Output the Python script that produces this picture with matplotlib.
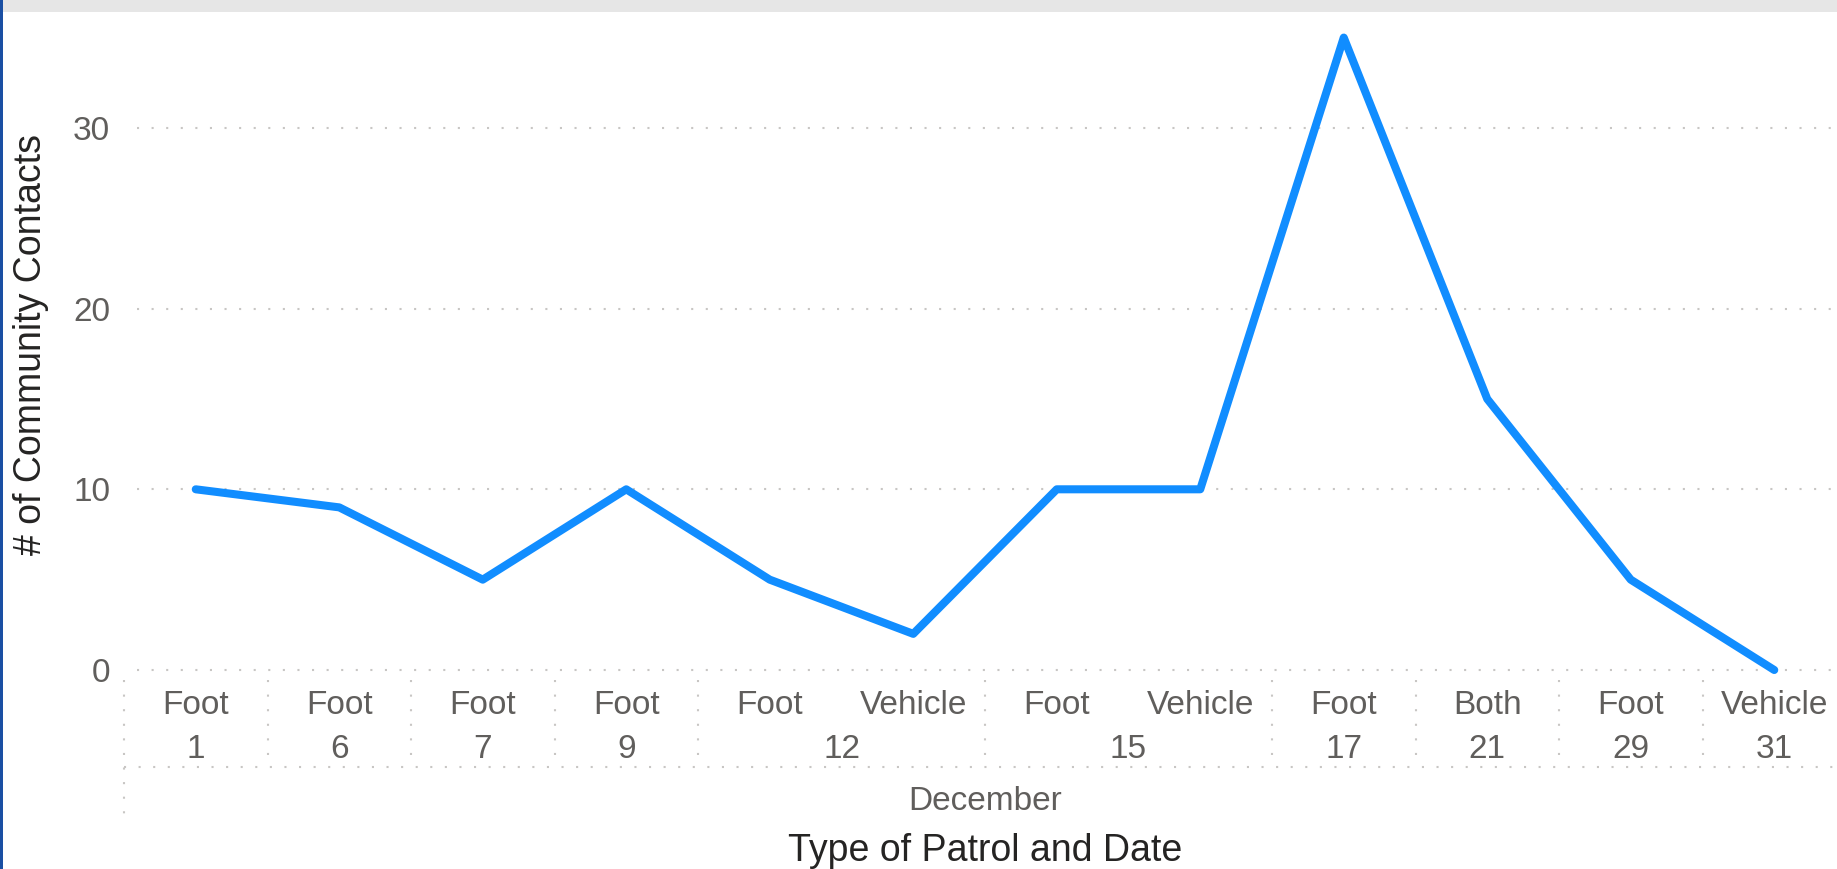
import itertools
import matplotlib
matplotlib.use("Agg")
import matplotlib.pyplot as plt
from matplotlib.patches import Rectangle

# data
patrol = ["Foot", "Foot", "Foot", "Foot", "Foot", "Vehicle",
          "Foot", "Vehicle", "Foot", "Both", "Foot", "Vehicle"]
day = [1, 6, 7, 9, 12, 12, 15, 15, 17, 21, 29, 31]
contacts = [10, 9, 5, 10, 5, 2, 10, 10, 35, 15, 5, 0]
month = "December"
y_ticks = [0, 10, 20, 30]

W, H = 1837, 869
plt.rcParams['font.family'] = ['Liberation Sans', 'DejaVu Sans']

LINE = "#118DFF"
TICK = "#605E5C"
TITLE = "#252423"
GRID = "#C8C6C4"
DOT = (0, (1, 6))

fig = plt.figure(figsize=(W / 100, H / 100), dpi=100)
fig.patch.set_facecolor("white")

# axes in pixel terms: left 124, bottom (y=0) at 670, top at 19.5
left, right = 124, 124 + 12 * 143.5
top, bottom = 19.5, 670
ax = fig.add_axes([left / W, 1 - bottom / H, (right - left) / W, (bottom - top) / H])
ax_h = bottom - top

x = list(range(len(contacts)))
ax.plot(x, contacts, color=LINE, lw=5.8, solid_joinstyle="round",
        solid_capstyle="round", clip_on=False, zorder=3)

ax.set_xlim(-0.5, len(contacts) - 0.5)
ax.set_ylim(0, 36)
for s in ax.spines.values():
    s.set_visible(False)

# gridlines (start a little right of the axis area like the original)
g0 = -0.5 + 13 / 143.5
for t in y_ticks:
    ax.plot([g0, len(contacts) - 0.5], [t, t], color=GRID, lw=1.5,
            ls=DOT, clip_on=False, zorder=1)

ax.set_yticks(y_ticks)
ax.set_xticks([])
ax.tick_params(axis="y", length=0, pad=10, labelsize=24, labelcolor=TICK)

ax.set_ylabel("# of Community Contacts", fontsize=27, color=TITLE)
ax.yaxis.set_label_coords((49 - left) / (right - left), 0.5)

tr = ax.get_xaxis_transform()


def yf(px):
    # pixels below the y=0 line -> axes fraction
    return -px / ax_h


# first label row: patrol type
for i, p in enumerate(patrol):
    ax.text(i, yf(35), p, transform=tr, ha="center", va="center",
            fontsize=24, color=TICK)

# second row: day, grouped
bounds = [-0.5]
pos = 0
for d, grp in itertools.groupby(day):
    n = len(list(grp))
    ax.text(pos + (n - 1) / 2, yf(79), str(d), transform=tr, ha="center",
            va="center", fontsize=24, color=TICK)
    pos += n
    bounds.append(pos - 0.5)

for b in bounds:
    low = 150 if b == bounds[0] else 97
    ax.plot([b, b], [yf(10), yf(low)], transform=tr, color=GRID, lw=1.5,
            ls=DOT, clip_on=False)

ax.plot([-0.5, len(contacts) - 0.5], [yf(97), yf(97)], transform=tr,
        color=GRID, lw=1.5, ls=DOT, clip_on=False)

ax.text((len(contacts) - 1) / 2, yf(131), month, transform=tr, ha="center",
        va="center", fontsize=24, color=TICK)
ax.text((len(contacts) - 1) / 2, yf(181), "Type of Patrol and Date",
        transform=tr, ha="center", va="center", fontsize=27, color=TITLE)

# report frame: grey strip on top, blue edge on left
fig.patches.append(Rectangle((0, 1 - 12 / H), 1, 12 / H, transform=fig.transFigure,
                             facecolor="#E6E6E6", edgecolor="none", zorder=0))
fig.patches.append(Rectangle((0, 0), 2.5 / W, 1, transform=fig.transFigure,
                             facecolor="#1A4FA3", edgecolor="none", zorder=5))

fig.savefig("out.png", dpi=100)
